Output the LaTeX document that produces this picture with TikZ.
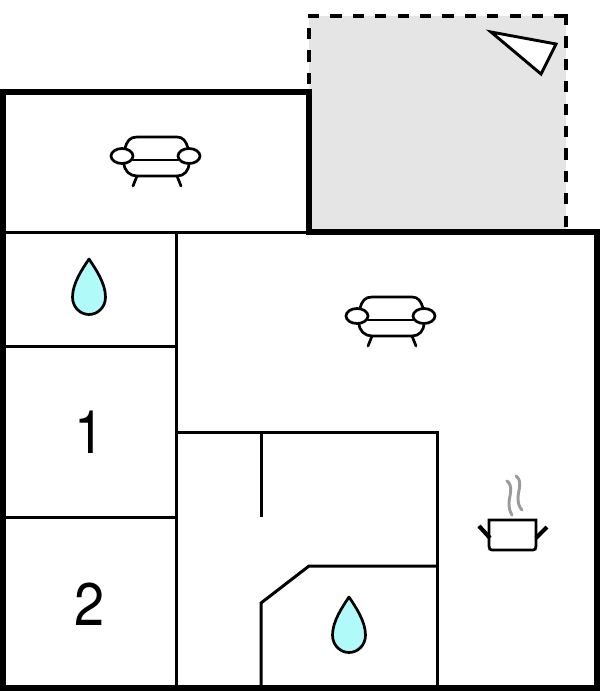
\documentclass[tikz,border=0pt]{standalone}
\usepackage{fontspec}
\setmainfont{TeX Gyre Heros}
\definecolor{terrace}{HTML}{E5E5E5}
\definecolor{water}{HTML}{B0FAFA}
\definecolor{steam}{HTML}{9A9A9A}
\tikzset{
  wall/.style={line width=5.8pt,line join=miter},
  inner wall/.style={line width=3pt,line join=miter},
  dash wall/.style={line width=3.3pt,dash pattern=on 11.2pt off 11.2pt},
  icon/.style={line width=2.7pt,line cap=round,line join=round},
  room label/.style={inner sep=0pt,xscale=0.9,font=\fontsize{60}{60}\selectfont},
  sofa/.pic={
    \draw[icon] (125,148) .. controls (127,141) and (130,137) .. (137,137) -- (177,137) .. controls (183,137) and (186,141) .. (188,148);
    \draw[icon] (124,163) .. controls (124,171) and (130,176) .. (137,176) -- (177,176) .. controls (184,176) and (189,171) .. (189,163);
    \draw[icon] (133,160) -- (178,160);
    \draw[icon] (137,176) -- (133,186);
    \draw[icon] (177,176) -- (181,186);
    \draw[icon,fill=white] (122,156) ellipse [x radius=11,y radius=7.5];
    \draw[icon,fill=white] (189,156) ellipse [x radius=11,y radius=7.5];
  },
  drop/.pic={
    \draw[icon,fill=water] (0,0) .. controls (6,9) and (16.5,24) .. (16.5,38)
      .. controls (16.5,49) and (8,55.5) .. (0,55.5)
      .. controls (-8,55.5) and (-16.5,49) .. (-16.5,38)
      .. controls (-16.5,24) and (-6,9) .. (0,0) -- cycle;
  }
}
\begin{document}
\begin{tikzpicture}[x=1pt,y=-1pt]
\useasboundingbox (0,0) rectangle (600,691);
% terrace
\fill[terrace] (309,16) -- (566,16) -- (566,232) -- (309,232) -- cycle;
\draw[dash wall] (308,16) -- (567,16);
\draw[dash wall] (566,14) -- (566,228);
\draw[dash wall] (309,28) -- (309,92);
\draw[line width=2.9pt,line join=miter,fill=white] (491,32) -- (556,44) -- (541,74) -- cycle;
% inner walls
\draw[inner wall] (3,232) -- (309,232);
\draw[inner wall] (176,232) -- (176,688);
\draw[inner wall] (3,346) -- (176,346);
\draw[inner wall] (3,517) -- (176,517);
\draw[inner wall] (176,432) -- (437,432) -- (437,688);
\draw[inner wall] (261,432) -- (261,517);
\draw[inner wall] (261,688) -- (261,603) -- (309,566) -- (437,566);
% outer walls
\draw[wall] (3,92) -- (309,92) -- (309,232) -- (597,232) -- (597,688) -- (3,688) -- cycle;
% icons
\pic at (0,0) {sofa};
\pic at (235,160) {sofa};
\pic at (89,259) {drop};
\pic at (349,597) {drop};
% kitchen
\draw[icon,line join=miter] (489,520) -- (536,520) -- (536,546) .. controls (536,549) and (535,550) .. (533,550) -- (492,550) .. controls (490,550) and (489,549) .. (489,546) -- cycle;
\draw[line width=4.2pt,line cap=butt] (479,526) -- (490,538);
\draw[line width=4.2pt,line cap=butt] (547,527) -- (536,538);
\draw[steam,line width=2.9pt,line cap=round] (507,481) .. controls (514,486) and (509,497) .. (509,503) .. controls (509,508) and (510,512) .. (512,515);
\draw[steam,line width=2.9pt,line cap=round] (516,476) .. controls (523,481) and (518,491) .. (518,498) .. controls (518,503) and (519,507) .. (522,510);
% labels
\node[room label] (roomone) at (90,432) {1};
\node[room label] (roomtwo) at (90,604) {2};
\end{tikzpicture}
\end{document}
